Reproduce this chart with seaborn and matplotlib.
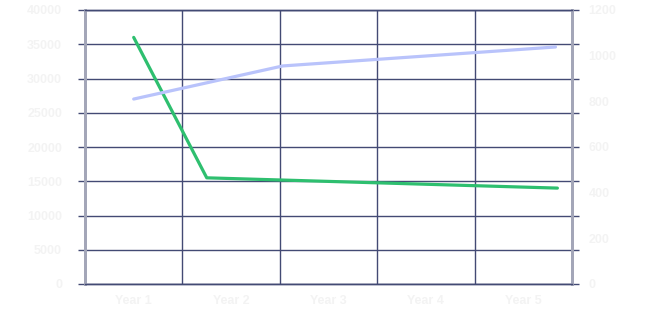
import matplotlib
matplotlib.use("Agg")
import matplotlib.pyplot as plt
from matplotlib.ticker import FixedLocator
import seaborn as sns
import pandas as pd

# Category labels along the bottom
years = ["Year 1", "Year 2", "Year 3", "Year 4", "Year 5"]

# Primary series (left axis)
primary_x = [0.0, 0.75, 4.35]
primary_y = [36000, 15500, 14000]

# Secondary series (right axis)
secondary_x = [0.0, 1.53, 4.33]
secondary_y = [810, 955, 1038]

left_ticks = [0, 5000, 10000, 15000, 20000, 25000, 30000, 35000, 40000]
right_ticks = [0, 200, 400, 600, 800, 1000, 1200]

sns.set_style("white")
plt.rcParams["font.family"] = ["Liberation Sans", "DejaVu Sans"]
plt.rcParams["font.weight"] = "bold"

grid_color = "#434a74"
spine_color = "#a3a6b8"
label_color = "#f3f3f3"
label_size = 9

fig = plt.figure(figsize=(6.45, 3.35), dpi=100)
ax = fig.add_axes([85 / 645, 1 - 284 / 335, 487 / 645, 274 / 335])
ax2 = ax.twinx()

df1 = pd.DataFrame({"x": primary_x, "y": primary_y})
df2 = pd.DataFrame({"x": secondary_x, "y": secondary_y})

sns.lineplot(data=df1, x="x", y="y", ax=ax, color="#2ebf6f", linewidth=2.3, zorder=5)
sns.lineplot(data=df2, x="x", y="y", ax=ax2, color="#b9c3fb", linewidth=2.3, zorder=5)

ax.set_xlim(-0.5, len(years) - 0.5)
ax.set_ylim(0, 40000)
ax2.set_ylim(0, 1200)

# category labels in the middle, boundaries as grid lines
ax.xaxis.set_major_locator(FixedLocator(range(len(years))))
ax.set_xticklabels(years, fontweight="bold")
ax.xaxis.set_minor_locator(FixedLocator([i - 0.5 for i in range(len(years) + 1)]))
ax.tick_params(axis="x", which="major", length=0, pad=8, labelsize=label_size, labelcolor=label_color)
ax.tick_params(axis="x", which="minor", length=5, width=1, color=grid_color, direction="out")
ax.grid(axis="x", which="minor", color=grid_color, linewidth=1)

ax.yaxis.set_major_locator(FixedLocator(left_ticks))
ax.set_yticklabels([str(t) for t in left_ticks], fontweight="bold")
ax.tick_params(axis="y", which="major", left=True, right=True, length=5, width=1,
               color=grid_color, direction="out", labelsize=label_size,
               labelcolor=label_color, pad=11.5)
ax.grid(axis="y", which="major", color=grid_color, linewidth=1)

ax2.yaxis.set_major_locator(FixedLocator(right_ticks))
ax2.set_yticklabels([str(t) for t in right_ticks], fontweight="bold")
ax2.tick_params(axis="y", length=0, labelsize=label_size, labelcolor=label_color, pad=12)
ax2.grid(False)

ax.set_xlabel("")
ax.set_ylabel("")
ax2.set_ylabel("")

for a in (ax, ax2):
    a.spines["top"].set_color(grid_color)
    a.spines["bottom"].set_color(grid_color)
    a.spines["top"].set_linewidth(1)
    a.spines["bottom"].set_linewidth(1)
    a.spines["left"].set_color(spine_color)
    a.spines["right"].set_color(spine_color)
    a.spines["left"].set_linewidth(2)
    a.spines["right"].set_linewidth(2)

ax.set_axisbelow(True)

fig.savefig("out.png", dpi=100, facecolor="white")
